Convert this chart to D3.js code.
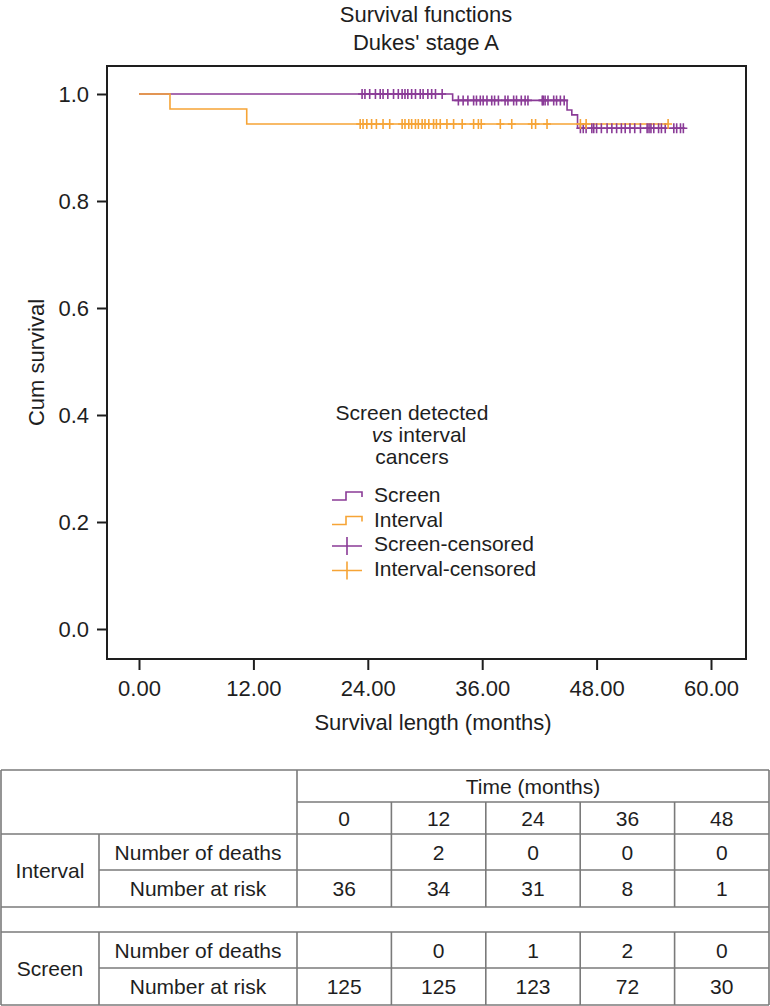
<!DOCTYPE html>
<html>
<head>
<meta charset="utf-8">
<script src="https://cdn.jsdelivr.net/npm/d3@7/dist/d3.min.js"></script>
<style>
  body { margin: 0; background: #fff; }
  text { font-family: "Liberation Sans", Arial, sans-serif; fill: #1e1e1e; }
</style>
</head>
<body>
<script>
/* jshint unused:false */
(function drawSurvival (window, d3, undefined) {
    "use strict";

    // Kaplan-Meier steps: [month, cum survival]
    var screenSteps = [[0, 1], [32.9, 0.988], [44.9, 0.970], [45.4, 0.961], [46.0, 0.936]],
        screenEnd = 57.3,
        intervalSteps = [[0, 1], [3.25, 0.972], [11.3, 0.944]],
        intervalEnd = 55.5;

    // censoring times (months)
    var screenCensored = [23.4, 23.7, 24.2, 24.8, 25.3, 25.6, 26.1, 26.7, 27.2, 27.6, 27.9, 28.2,
        28.6, 29.0, 29.5, 29.8, 30.3, 30.7, 31.1, 31.8,
        33.5, 34.0, 34.5, 35.1, 35.4, 35.8, 36.1, 36.5, 37.0, 37.3, 37.7, 38.4, 38.7, 39.3,
        39.6, 40.1, 40.5, 40.8, 42.3, 42.4, 42.6, 42.9, 43.5, 43.8, 44.2, 44.6,
        46.3, 46.6, 46.9, 47.5, 47.7, 48.0, 48.5, 49.1, 49.6, 50.1, 50.6, 51.0, 51.5, 52.0,
        52.6, 53.3, 53.5, 53.7, 54.0, 54.5, 54.8, 55.2, 56.1, 56.4, 56.8, 57.1];
    var intervalCensored = [23.2, 23.5, 23.9, 24.4, 24.9, 25.6, 26.3, 27.6, 27.9, 28.3, 28.6,
        29.0, 29.3, 29.7, 30.0, 30.4, 30.9, 31.2, 31.6, 32.3, 33.0, 33.9, 35.1, 35.6, 35.9,
        37.9, 39.1, 41.2, 41.6, 42.8, 46.3, 46.9, 55.5];

    var xTicks = [0, 12, 24, 36, 48, 60],
        yTicks = [0, 0.2, 0.4, 0.6, 0.8, 1.0];

    var legendTitle = ["Screen detected", "vs interval", "cancers"],
        legendItems = ["Screen", "Interval", "Screen-censored", "Interval-censored"];

    // number-at-risk table
    var timeCols = [0, 12, 24, 36, 48],
        intervalDeaths = ["", 2, 0, 0, 0],
        intervalAtRisk = [36, 34, 31, 8, 1],
        screenDeaths = ["", 0, 1, 2, 0],
        screenAtRisk = [125, 125, 123, 72, 30];

    var purple = "#8a3b97",
        orange = "#f6a436",
        frame = {left: 107, top: 66, right: 746, bottom: 659};

    var svg = d3.select("body").append("svg")
        .attr("width", 770)
        .attr("height", 1006);

    var x = d3.scaleLinear().domain([0, 60]).range([139, 711]),
        y = d3.scaleLinear().domain([0, 1]).range([629, 94]);

    // titles
    svg.append("text").attr("x", 426).attr("y", 22).attr("text-anchor", "middle")
        .style("font-size", "22px").text("Survival functions");
    svg.append("text").attr("x", 426).attr("y", 50).attr("text-anchor", "middle")
        .style("font-size", "22px").text("Dukes' stage A");

    // axes
    var yAxis = d3.axisLeft(y).tickValues(yTicks).tickFormat(d3.format(".1f"))
        .tickSize(10).tickPadding(8);
    var xAxis = d3.axisBottom(x).tickValues(xTicks).tickFormat(d3.format(".2f"))
        .tickSize(11).tickPadding(10);

    var gy = svg.append("g").attr("transform", "translate(" + frame.left + ",0)").call(yAxis);
    var gx = svg.append("g").attr("transform", "translate(0," + frame.bottom + ")").call(xAxis);
    [gx, gy].forEach(function (g) {
        g.select(".domain").remove();
        g.selectAll(".tick line").attr("stroke", "#1e1e1e").attr("stroke-width", 2);
        g.selectAll(".tick text").style("font-size", "22px")
            .style("font-family", "'Liberation Sans', Arial, sans-serif").attr("fill", "#1e1e1e");
    });

    svg.append("rect")
        .attr("x", frame.left).attr("y", frame.top)
        .attr("width", frame.right - frame.left).attr("height", frame.bottom - frame.top)
        .attr("fill", "none").attr("stroke", "#1e1e1e").attr("stroke-width", 2);

    svg.append("text").attr("transform", "translate(36," + ((frame.top + frame.bottom) / 2) + ")rotate(-90)")
        .attr("text-anchor", "middle").attr("dy", "0.35em")
        .style("font-size", "22px").text("Cum survival");
    svg.append("text").attr("x", 433).attr("y", 730).attr("text-anchor", "middle")
        .style("font-size", "22px").text("Survival length (months)");

    // curves
    function survAt (steps, t) {
        var s = 1;
        steps.forEach(function (d) { if (d[0] <= t) s = d[1]; });
        return s;
    }

    var line = d3.line()
        .x(function (d) { return x(d[0]); })
        .y(function (d) { return y(d[1]); })
        .curve(d3.curveStepAfter);

    function curvePts (steps, end) {
        return steps.concat([[end, steps[steps.length - 1][1]]]);
    }

    function drawCensor (times, steps, color) {
        svg.append("g").selectAll("path")
            .data(times)
            .enter().append("path")
            .attr("d", function (t) {
                var cx = x(t), cy = y(survAt(steps, t));
                return "M" + (cx - 4) + "," + cy + "H" + (cx + 4) +
                    "M" + cx + "," + (cy - 5) + "V" + (cy + 5);
            })
            .attr("stroke", color).attr("stroke-width", 1.6).attr("fill", "none");
    }

    svg.append("path").attr("d", line(curvePts(screenSteps, screenEnd)))
        .attr("fill", "none").attr("stroke", purple).attr("stroke-width", 1.6);
    svg.append("path").attr("d", line(curvePts(intervalSteps, intervalEnd)))
        .attr("fill", "none").attr("stroke", orange).attr("stroke-width", 1.6);
    drawCensor(screenCensored, screenSteps, purple);
    drawCensor(intervalCensored, intervalSteps, orange);

    // legend
    var lg = svg.append("g");
    legendTitle.forEach(function (t, i) {
        var tx = lg.append("text").attr("x", i === 1 ? 419 : 412).attr("y", 420 + i * 22)
            .attr("text-anchor", "middle").style("font-size", "21px");
        if (i === 1) {
            tx.append("tspan").style("font-style", "italic").text("vs");
            tx.append("tspan").text(t.replace("vs", ""));
        } else {
            tx.text(t);
        }
    });
    var legendColors = [purple, orange, purple, orange];
    legendItems.forEach(function (name, i) {
        var cy = 495 + i * 24.5, c = legendColors[i];
        var sym = i < 2 ?
            "M332," + (cy + 5) + "H346V" + (cy - 3) + "H362V" + (cy + 2) :
            "M332," + (cy + 2) + "H362M347," + (cy - 7) + "V" + (cy + 11);
        lg.append("path").attr("d", sym).attr("fill", "none")
            .attr("stroke", c).attr("stroke-width", 1.6);
        lg.append("text").attr("x", 374).attr("y", cy).attr("dy", "0.35em")
            .style("font-size", "21px").text(name);
    });

    // table
    var col = d3.scaleBand().domain(timeCols).range([297, 769]),
        rows = [770, 802, 834, 870, 907, 932, 968, 1005],
        tbl = svg.append("g"),
        lineColor = "#7a7a7a";

    function hline (x1, x2, yy) {
        tbl.append("line").attr("x1", x1).attr("x2", x2).attr("y1", yy).attr("y2", yy)
            .attr("stroke", lineColor).attr("stroke-width", 1.6);
    }
    function vline (xx, y1, y2) {
        tbl.append("line").attr("x1", xx).attr("x2", xx).attr("y1", y1).attr("y2", y2)
            .attr("stroke", lineColor).attr("stroke-width", 1.6);
    }
    function cell (txt, cx, cy) {
        tbl.append("text").attr("x", cx).attr("y", cy).attr("dy", "0.36em")
            .attr("text-anchor", "middle").style("font-size", "21px").text(txt);
    }

    hline(1, 769, rows[0]);
    hline(297, 769, rows[1]);
    [2, 4, 5, 7].forEach(function (r) { hline(1, 769, rows[r]); });
    hline(99, 769, rows[3]);
    hline(99, 769, rows[6]);
    vline(1, rows[0], rows[7]);
    vline(769, rows[0], rows[7]);
    vline(297, rows[0], rows[4]);
    vline(297, rows[5], rows[7]);
    vline(99, rows[2], rows[4]);
    vline(99, rows[5], rows[7]);
    timeCols.forEach(function (t, i) {
        if (i === 0) return;
        vline(col(t), rows[1], rows[4]);
        vline(col(t), rows[5], rows[7]);
    });

    cell("Time (months)", (297 + 769) / 2, (rows[0] + rows[1]) / 2);
    function mid (r) { return (rows[r] + rows[r + 1]) / 2; }
    var half = col.bandwidth() / 2;
    timeCols.forEach(function (t, i) {
        cell(t, col(t) + half, mid(1));
        cell(intervalDeaths[i], col(t) + half, mid(2));
        cell(intervalAtRisk[i], col(t) + half, mid(3));
        cell(screenDeaths[i], col(t) + half, mid(5));
        cell(screenAtRisk[i], col(t) + half, mid(6));
    });
    cell("Interval", 50, rows[3]);
    cell("Screen", 50, rows[6]);
    cell("Number of deaths", 198, mid(2));
    cell("Number at risk", 198, mid(3));
    cell("Number of deaths", 198, mid(5));
    cell("Number at risk", 198, mid(6));
})(window, window.d3);
</script>
</body>
</html>
